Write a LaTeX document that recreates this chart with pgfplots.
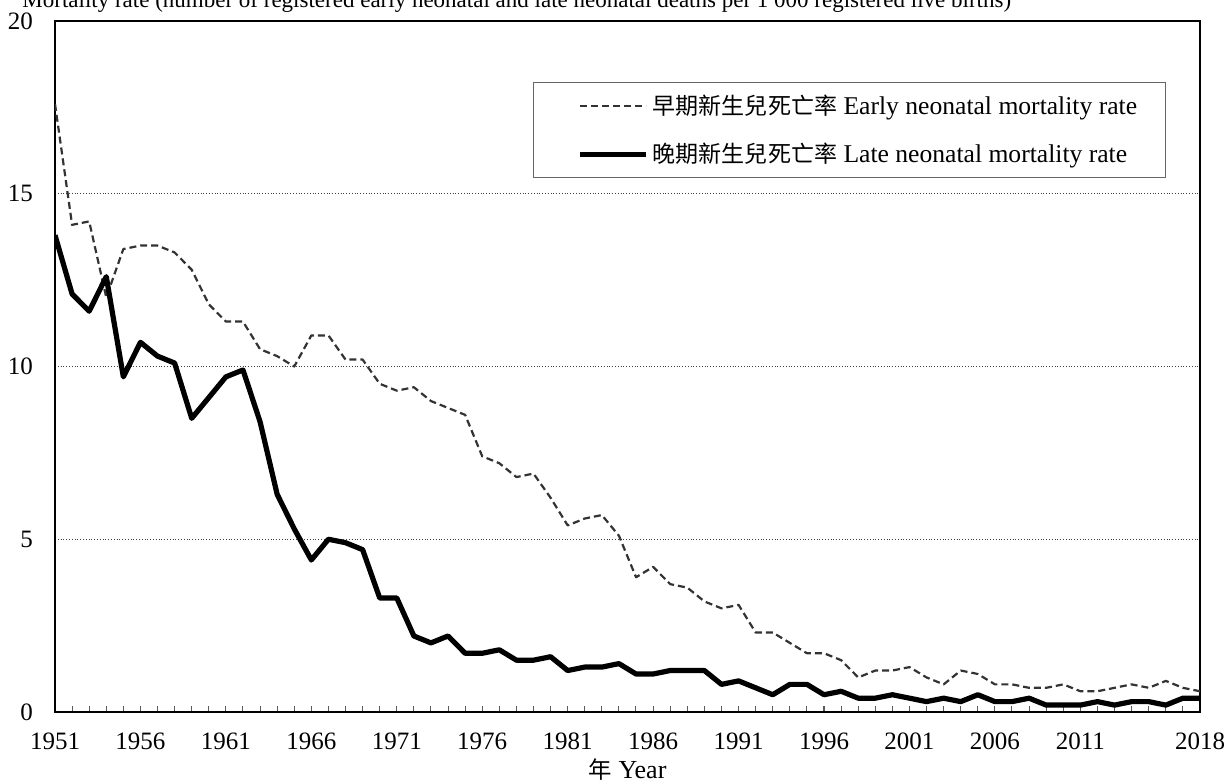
\documentclass[border=0pt]{standalone}
\usepackage{fontspec}
\setmainfont{Liberation Serif}
\newfontfamily\cjk[Scale=0.9]{Noto Sans CJK TC}
\usepackage{pgfplots}
\pgfplotsset{compat=1.18}

\begin{document}
\begin{tikzpicture}
\begin{axis}[
  name=ax,
  width=572.5pt, height=345.5pt, scale only axis,
  xmin=1951, xmax=2018, ymin=0, ymax=20,
  xtick={1951,1956,1961,1966,1971,1976,1981,1986,1991,1996,2001,2006,2011,2018},
  minor xtick={1951,1952,...,2018},
  ytick={0,5,10,15,20},
  ymajorgrids,
  grid style={densely dotted, black!75, line width=0.5pt},
  tick align=inside,
  xtick pos=left, ytick pos=left,
  major tick length=3pt, minor tick length=3pt,
  y tick style={draw=none},
  every tick/.style={black!65, line width=0.5pt},
  axis line style={line width=1pt},
  /pgf/number format/assume math mode=true,
  x tick label style={/pgf/number format/1000 sep={}, yshift=-7pt},
  y tick label style={xshift=-7.5pt},
  tick label style={font=\fontsize{12.5}{15}\selectfont},
  xlabel={{\cjk 年} Year},
  xlabel style={at={(axis description cs:0.5,0)}, anchor=center, yshift=-29pt, font=\fontsize{13}{15}\selectfont},
  legend style={at={(0.4175,0.9117)}, anchor=north west, draw=black!60, line width=0.6pt,
    font=\fontsize{12.8}{15}\selectfont, inner xsep=12pt, inner ysep=4pt, row sep=9pt,
    cells={anchor=west}},
  legend image code/.code={\path (0pt,0pt); \draw[#1] (10pt,0pt) -- (43pt,0pt);},
]
\addplot[color=black!80, line width=1.1pt, dash pattern=on 3.5pt off 2pt, line join=round] coordinates {
(1951,17.6) (1952,14.1) (1953,14.2) (1954,12.0) (1955,13.4) (1956,13.5) (1957,13.5) (1958,13.3)
(1959,12.8) (1960,11.8) (1961,11.3) (1962,11.3) (1963,10.5) (1964,10.3) (1965,10.0) (1966,10.9)
(1967,10.9) (1968,10.2) (1969,10.2) (1970,9.5) (1971,9.3) (1972,9.4) (1973,9.0) (1974,8.8)
(1975,8.6) (1976,7.4) (1977,7.2) (1978,6.8) (1979,6.9) (1980,6.2) (1981,5.4) (1982,5.6)
(1983,5.7) (1984,5.1) (1985,3.9) (1986,4.2) (1987,3.7) (1988,3.6) (1989,3.2) (1990,3.0)
(1991,3.1) (1992,2.3) (1993,2.3) (1994,2.0) (1995,1.7) (1996,1.7) (1997,1.5) (1998,1.0)
(1999,1.2) (2000,1.2) (2001,1.3) (2002,1.0) (2003,0.8) (2004,1.2) (2005,1.1) (2006,0.8)
(2007,0.8) (2008,0.7) (2009,0.7) (2010,0.8) (2011,0.6) (2012,0.6) (2013,0.7) (2014,0.8)
(2015,0.7) (2016,0.9) (2017,0.7) (2018,0.6)
};
\addlegendentry{{\cjk 早期新生兒死亡率} Early neonatal mortality rate}
\addplot[color=black, line width=2.6pt, line join=round] coordinates {
(1951,13.8) (1952,12.1) (1953,11.6) (1954,12.6) (1955,9.7) (1956,10.7) (1957,10.3) (1958,10.1)
(1959,8.5) (1960,9.1) (1961,9.7) (1962,9.9) (1963,8.4) (1964,6.3) (1965,5.3) (1966,4.4)
(1967,5.0) (1968,4.9) (1969,4.7) (1970,3.3) (1971,3.3) (1972,2.2) (1973,2.0) (1974,2.2)
(1975,1.7) (1976,1.7) (1977,1.8) (1978,1.5) (1979,1.5) (1980,1.6) (1981,1.2) (1982,1.3)
(1983,1.3) (1984,1.4) (1985,1.1) (1986,1.1) (1987,1.2) (1988,1.2) (1989,1.2) (1990,0.8)
(1991,0.9) (1992,0.7) (1993,0.5) (1994,0.8) (1995,0.8) (1996,0.5) (1997,0.6) (1998,0.4)
(1999,0.4) (2000,0.5) (2001,0.4) (2002,0.3) (2003,0.4) (2004,0.3) (2005,0.5) (2006,0.3)
(2007,0.3) (2008,0.4) (2009,0.2) (2010,0.2) (2011,0.2) (2012,0.3) (2013,0.2) (2014,0.3)
(2015,0.3) (2016,0.2) (2017,0.4) (2018,0.4)
};
\addlegendentry{{\cjk 晚期新生兒死亡率} Late neonatal mortality rate}
\end{axis}
\node[anchor=base west, font=\fontsize{11.5}{13}\selectfont, inner sep=0pt]
  at ([xshift=-16.5pt,yshift=6.5pt]ax.north west)
  {Mortality rate (number of registered early neonatal and late neonatal deaths per 1~000 registered live births)};
\pgfresetboundingbox
\useasboundingbox ([xshift=-27.5pt,yshift=-35pt]ax.south west) rectangle ([xshift=13pt,yshift=10.5pt]ax.north east);
\end{tikzpicture}
\end{document}
